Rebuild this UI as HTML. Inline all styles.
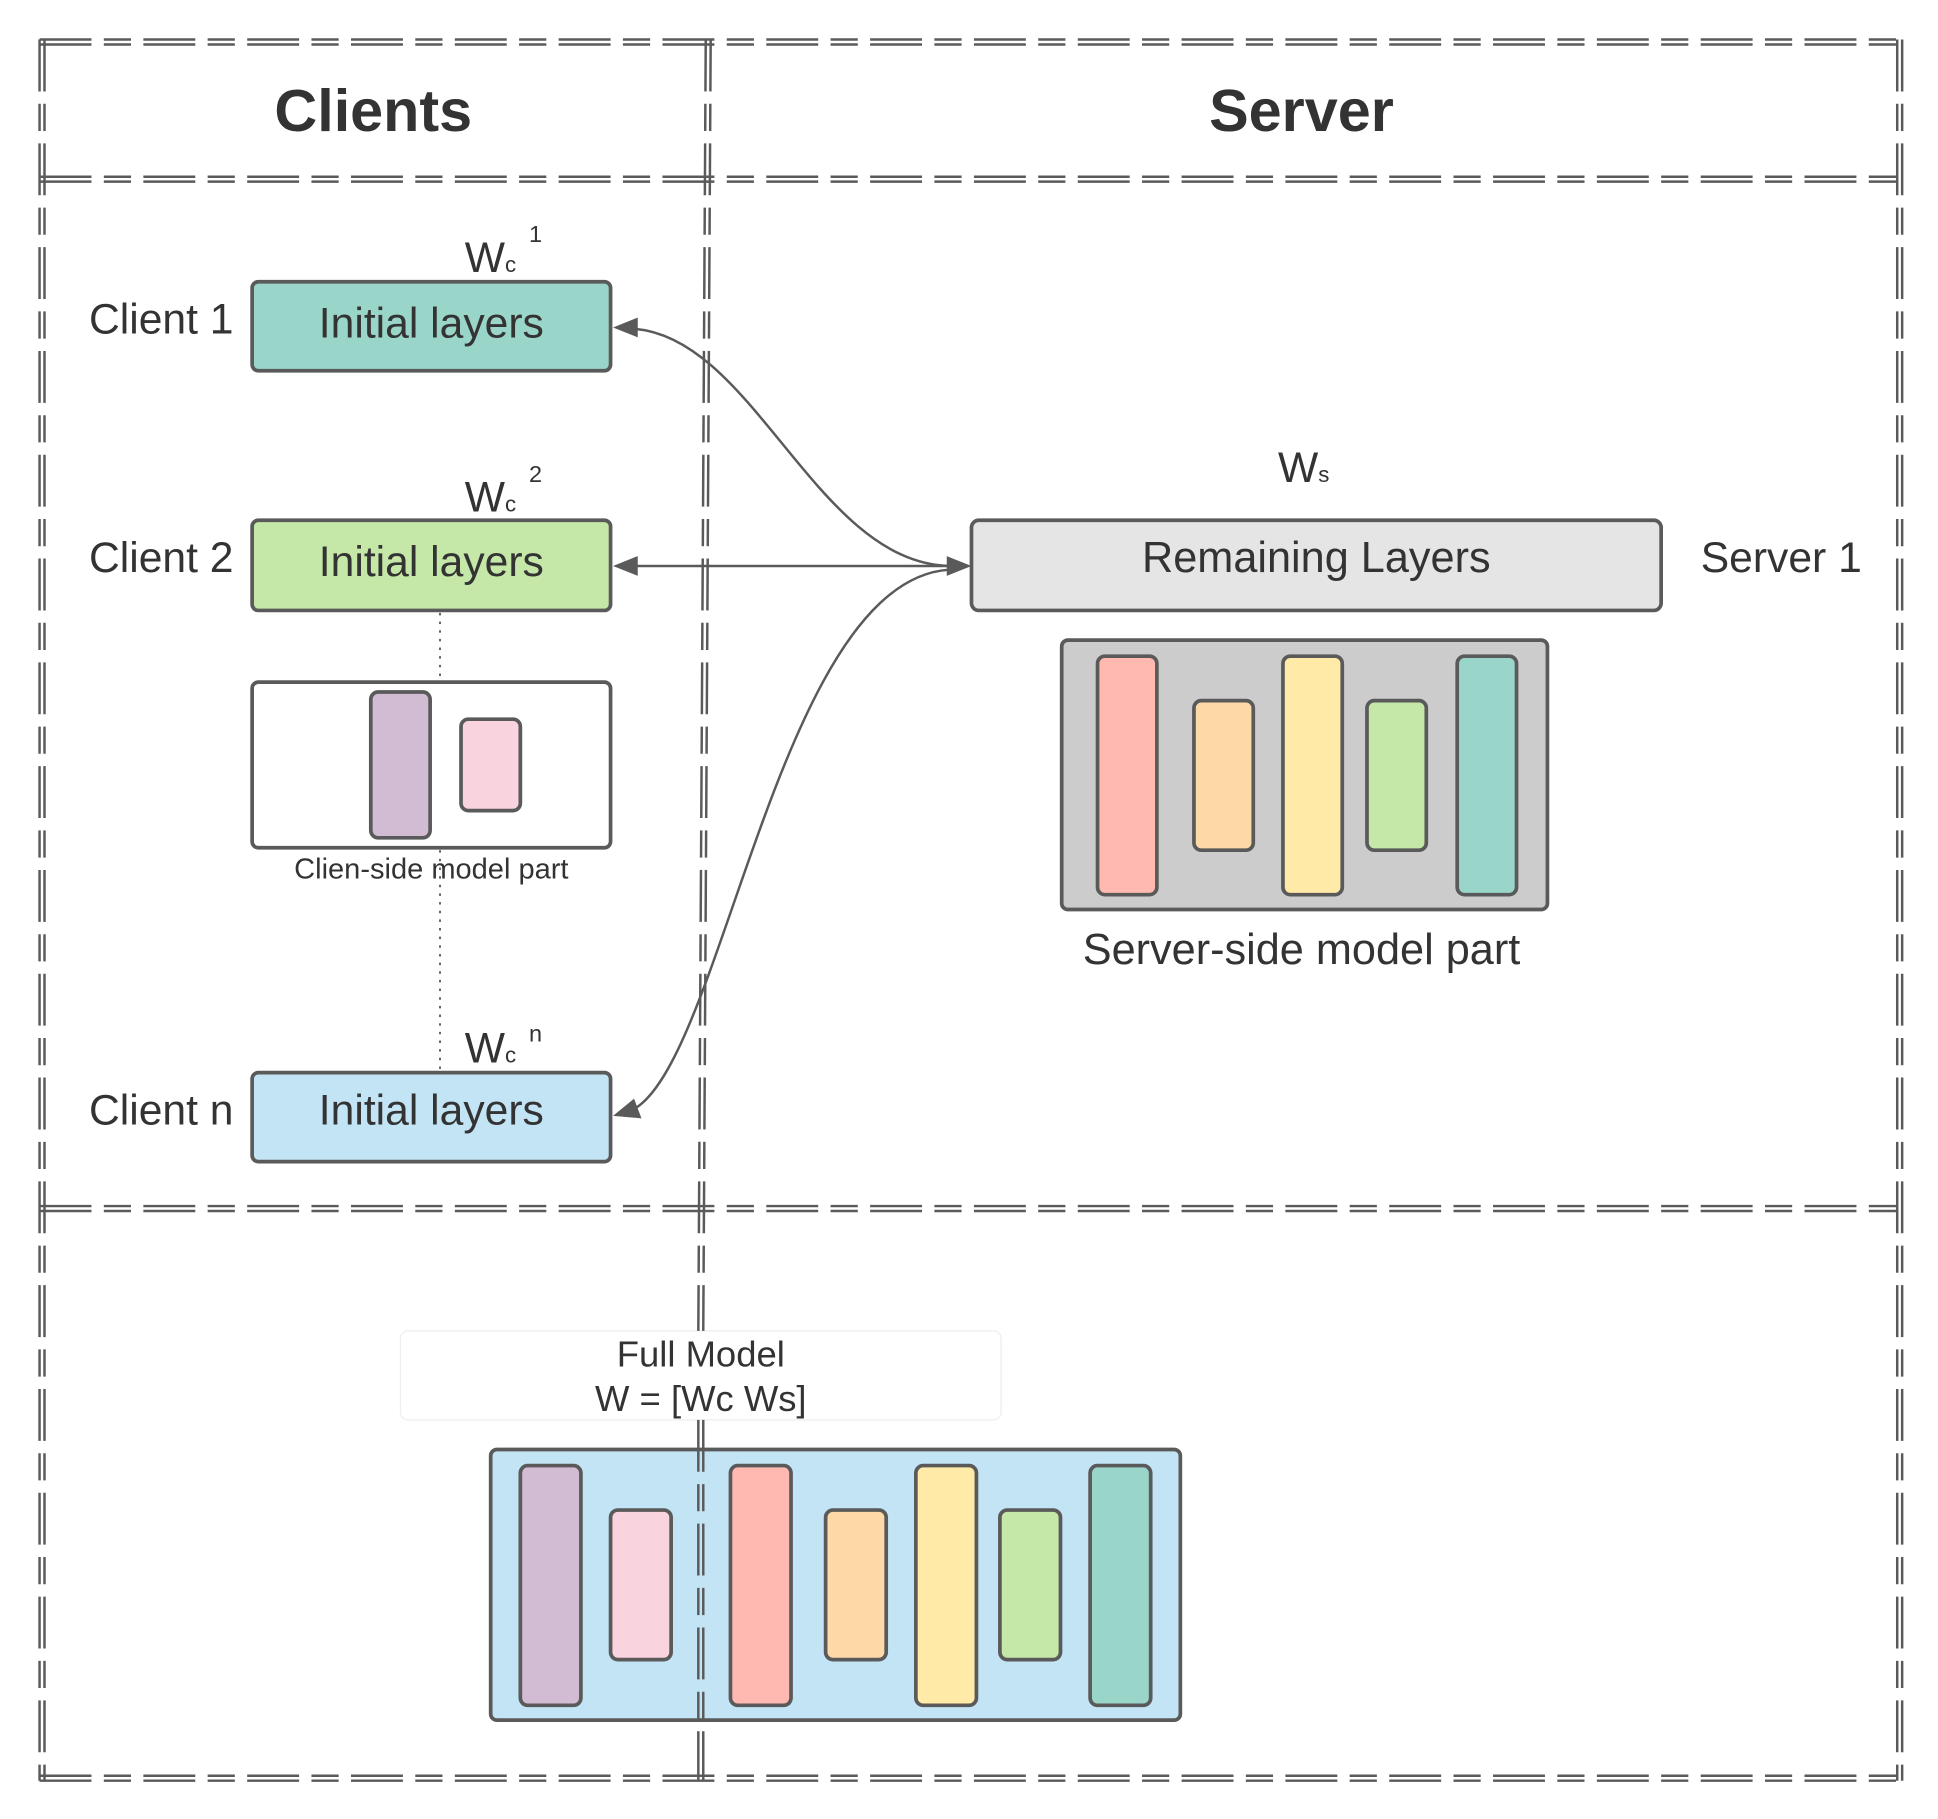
<!DOCTYPE html>
<html><head><meta charset="utf-8"><style>html,body{margin:0;padding:0;background:#fff}svg{display:block}</style></head>
<body>
<svg width="1938" height="1819" viewBox="0 0 1568 1472" preserveAspectRatio="none" xmlns="http://www.w3.org/2000/svg" font-family="Liberation Sans, sans-serif">
<g stroke="#5a5a5a" stroke-width="2" fill="none" stroke-dasharray="42 10 22 10">
<line x1="32" y1="32" x2="1540" y2="32"/><line x1="32" y1="36" x2="1540" y2="36"/>
<line x1="32" y1="143" x2="1540" y2="143"/><line x1="32" y1="147" x2="1540" y2="147"/>
<line x1="32" y1="976" x2="1540" y2="976"/><line x1="32" y1="980" x2="1540" y2="980"/>
<line x1="32" y1="1437" x2="1540" y2="1437"/><line x1="32" y1="1441" x2="1540" y2="1441"/>
<line x1="32" y1="32" x2="32" y2="1441"/><line x1="36" y1="32" x2="36" y2="1441"/>
<line x1="1535" y1="32" x2="1535" y2="1441"/><line x1="1539" y1="32" x2="1539" y2="1441"/>
</g>
<text x="302" y="106" font-size="48" font-weight="bold" fill="#333" text-anchor="middle">Clients</text>
<text x="1053" y="106" font-size="48" font-weight="bold" fill="#333" text-anchor="middle">Server</text>

<g stroke="#5a5a5a" stroke-width="3">
<rect x="204" y="228" width="290" height="72" rx="5" fill="#9ad5ca"/>
<rect x="204" y="421" width="290" height="73" rx="5" fill="#c5e8a8"/>
<rect x="204" y="552" width="290" height="134" rx="5" fill="#fff"/>
<rect x="300" y="560" width="48" height="118" rx="6" fill="#d2bcd3"/>
<rect x="373" y="582" width="48" height="74" rx="6" fill="#f9d3de"/>
<rect x="204" y="868" width="290" height="72" rx="5" fill="#c2e4f5"/>
<rect x="786" y="421" width="558" height="73" rx="6" fill="#e5e5e5"/>
<rect x="859" y="518" width="393" height="218" rx="5" fill="#cccccc"/>
<rect x="888" y="531" width="48" height="193" rx="6" fill="#ffb9b0"/>
<rect x="966" y="567" width="48" height="121" rx="6" fill="#fed9a8"/>
<rect x="1038" y="531" width="48" height="193" rx="6" fill="#ffeaa8"/>
<rect x="1106" y="567" width="48" height="121" rx="6" fill="#c5e8a8"/>
<rect x="1179" y="531" width="48" height="193" rx="6" fill="#9ad5ca"/>
<rect x="397" y="1173" width="558" height="219" rx="5" fill="#c2e4f5"/>
<rect x="421" y="1186" width="49" height="194" rx="6" fill="#d2bcd3"/>
<rect x="494" y="1222" width="49" height="121" rx="6" fill="#f9d3de"/>
<rect x="591" y="1186" width="49" height="194" rx="6" fill="#ffb9b0"/>
<rect x="668" y="1222" width="49" height="121" rx="6" fill="#fed9a8"/>
<rect x="741" y="1186" width="49" height="194" rx="6" fill="#ffeaa8"/>
<rect x="809" y="1222" width="49" height="121" rx="6" fill="#c5e8a8"/>
<rect x="882" y="1186" width="49" height="194" rx="6" fill="#9ad5ca"/>
</g>
<g stroke="#5a5a5a" stroke-width="1.5" stroke-dasharray="2 5">
<line x1="356" y1="496" x2="356" y2="552"/><line x1="356" y1="688" x2="356" y2="866"/>
</g>
<rect x="324" y="1077" width="486" height="72" rx="6" fill="#fff" stroke="#eee" stroke-width="1"/>
<g stroke="#5a5a5a" stroke-width="2" fill="none" stroke-dasharray="42 10 22 10">
<line x1="571" y1="32" x2="565" y2="1077"/><line x1="575" y1="32" x2="569" y2="1077"/>
<line x1="565" y1="1149" x2="565" y2="1441"/><line x1="569" y1="1149" x2="569" y2="1441"/>
</g>

<g font-size="34.5" fill="#333">
<text x="349" y="273" text-anchor="middle">Initial layers</text>
<text x="349" y="466" text-anchor="middle">Initial layers</text>
<text x="349" y="910" text-anchor="middle">Initial layers</text>
<text x="1065" y="463" text-anchor="middle" font-size="35">Remaining Layers</text>
<text x="72" y="270">Client 1</text>
<text x="72" y="463">Client 2</text>
<text x="72" y="910">Client n</text>
<text x="1376" y="463">Server 1</text>
<text x="1053" y="780" text-anchor="middle" font-size="35">Server-side model part</text>
<text x="376" y="220">W<tspan font-size="18">c</tspan></text>
<text x="376" y="414">W<tspan font-size="18">c</tspan></text>
<text x="376" y="860">W<tspan font-size="18">c</tspan></text>
<text x="1034" y="390">W<tspan font-size="18">s</tspan></text>
</g>
<g font-size="19" fill="#333">
<text x="428" y="196">1</text><text x="428" y="390">2</text><text x="428" y="843">n</text>
</g>
<text x="349" y="711" font-size="23.5" fill="#333" text-anchor="middle">Clien-side model part</text>
<text x="567" y="1106" font-size="29.5" fill="#333" text-anchor="middle">Full Model</text>
<text x="567" y="1142" font-size="29.5" fill="#333" text-anchor="middle">W = [Wc Ws]</text>

<g stroke="#5a5a5a" stroke-width="2" fill="none">
<path d="M512,266 C610,272 660,455 768,458"/>
<path d="M512,898 C585,860 630,470 768,461"/>
<line x1="512" y1="458" x2="768" y2="458"/>
</g>
<g fill="#5a5a5a">
<polygon points="496,265 516,257 516,273"/>
<polygon points="496,458 516,450 516,466"/>
<polygon points="496,903 513,889 519,905"/>
<polygon points="786,458 766,450 766,466"/>
</g>
</svg>
</body></html>
